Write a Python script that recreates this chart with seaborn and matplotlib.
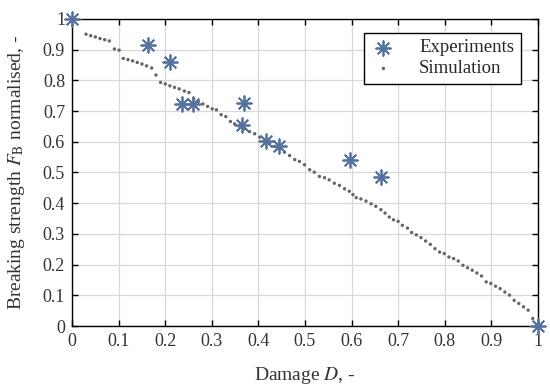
import matplotlib
matplotlib.use("Agg")
import matplotlib.pyplot as plt
import seaborn as sns
import pandas as pd

# Experimentelle Punkte
exp_damage = [0.0, 0.163, 0.21, 0.237, 0.26, 0.365, 0.369, 0.417, 0.445, 0.597, 0.664, 1.0]
exp_strength = [1.0, 0.916, 0.86, 0.723, 0.723, 0.653, 0.726, 0.604, 0.585, 0.541, 0.485, 0.0]

# Simulation
sim_damage = [0.0, 0.03, 0.04, 0.05, 0.06, 0.07, 0.08, 0.091, 0.101, 0.11, 0.12, 0.13, 0.14,
              0.15, 0.16, 0.171, 0.18, 0.19, 0.2, 0.21, 0.22, 0.23, 0.241, 0.251, 0.261,
              0.271, 0.281, 0.291, 0.301, 0.31, 0.32, 0.33, 0.34, 0.349, 0.36, 0.37, 0.381,
              0.392, 0.403, 0.413, 0.424, 0.435, 0.445, 0.456, 0.467, 0.478, 0.488, 0.499,
              0.51, 0.52, 0.531, 0.542, 0.552, 0.563, 0.574, 0.585, 0.595, 0.603, 0.61, 0.62,
              0.631, 0.642, 0.652, 0.663, 0.672, 0.681, 0.69, 0.7, 0.709, 0.72, 0.729, 0.739,
              0.749, 0.759, 0.769, 0.779, 0.789, 0.799, 0.809, 0.819, 0.829, 0.839, 0.849,
              0.859, 0.869, 0.879, 0.889, 0.899, 0.909, 0.919, 0.929, 0.939, 0.949, 0.959,
              0.969, 0.979, 0.989, 1.0]
sim_strength = [1.0, 0.95, 0.945, 0.941, 0.936, 0.932, 0.928, 0.902, 0.898, 0.871, 0.867, 0.863,
                0.858, 0.853, 0.847, 0.84, 0.817, 0.793, 0.788, 0.782, 0.777, 0.772, 0.765,
                0.76, 0.739, 0.731, 0.723, 0.715, 0.707, 0.704, 0.688, 0.682, 0.666, 0.658,
                0.65, 0.642, 0.633, 0.626, 0.615, 0.604, 0.595, 0.585, 0.577, 0.566, 0.555,
                0.542, 0.536, 0.525, 0.509, 0.501, 0.487, 0.483, 0.476, 0.465, 0.458, 0.447,
                0.439, 0.428, 0.418, 0.414, 0.407, 0.398, 0.39, 0.379, 0.368, 0.355, 0.346,
                0.341, 0.328, 0.319, 0.305, 0.297, 0.288, 0.277, 0.266, 0.252, 0.241, 0.236,
                0.225, 0.22, 0.212, 0.198, 0.19, 0.182, 0.173, 0.163, 0.144, 0.139, 0.13,
                0.122, 0.111, 0.101, 0.084, 0.074, 0.063, 0.052, 0.025, 0.0]

ticks = [0, 0.1, 0.2, 0.3, 0.4, 0.5, 0.6, 0.7, 0.8, 0.9, 1]
tick_labels = ["0", "0.1", "0.2", "0.3", "0.4", "0.5", "0.6", "0.7", "0.8", "0.9", "1"]

df_exp = pd.DataFrame({"D": exp_damage, "F": exp_strength})
df_sim = pd.DataFrame({"D": sim_damage, "F": sim_strength})

sns.set_style("ticks")
plt.rcParams["font.family"] = ["Liberation Serif", "DejaVu Serif"]
plt.rcParams["mathtext.fontset"] = "stix"

fig = plt.figure(figsize=(5.5, 3.92), dpi=100)
ax = fig.add_axes([0.131, 0.168, 0.847, 0.784])

sns.scatterplot(data=df_sim, x="D", y="F", ax=ax, color="#666666", s=6,
                edgecolor="none", label="Simulation", zorder=3)
sns.scatterplot(data=df_exp, x="D", y="F", ax=ax, marker=(8, 2, 0), color="#5572a0",
                s=110, linewidth=1.3, label="Experiments", zorder=4, clip_on=False)

ax.set_xlim(0, 1)
ax.set_ylim(0, 1)
ax.set_xticks(ticks)
ax.set_xticklabels(tick_labels)
ax.set_yticks(ticks)
ax.set_yticklabels(tick_labels)
ax.grid(True, color="#d8d8d8", linewidth=0.9)
ax.set_axisbelow(True)
for sp in ax.spines.values():
    sp.set_visible(True)
    sp.set_linewidth(1.0)
    sp.set_color("black")
ax.tick_params(direction="in", top=True, right=True, length=4, width=1,
               labelsize=13, colors="black", pad=5)
for lab in ax.get_xticklabels() + ax.get_yticklabels():
    lab.set_color("#333333")

ax.set_xlabel("Damage $D$, -", fontsize=14, color="#333333", labelpad=11)
ax.set_ylabel(r"Breaking strength $F_{\mathrm{B}}$ normalised, -", fontsize=14,
              color="#333333", labelpad=11)

handles, labels = ax.get_legend_handles_labels()
order = [labels.index("Experiments"), labels.index("Simulation")]
leg = ax.legend([handles[i] for i in order], [labels[i] for i in order],
                loc="upper right", bbox_to_anchor=(0.983, 0.985), fontsize=13.5,
                frameon=True, fancybox=False, framealpha=1, edgecolor="black",
                borderpad=0.35, handletextpad=1.2, labelspacing=0.2, handlelength=1.4)
leg.get_frame().set_linewidth(1.0)

fig.savefig("out.png", dpi=100)
